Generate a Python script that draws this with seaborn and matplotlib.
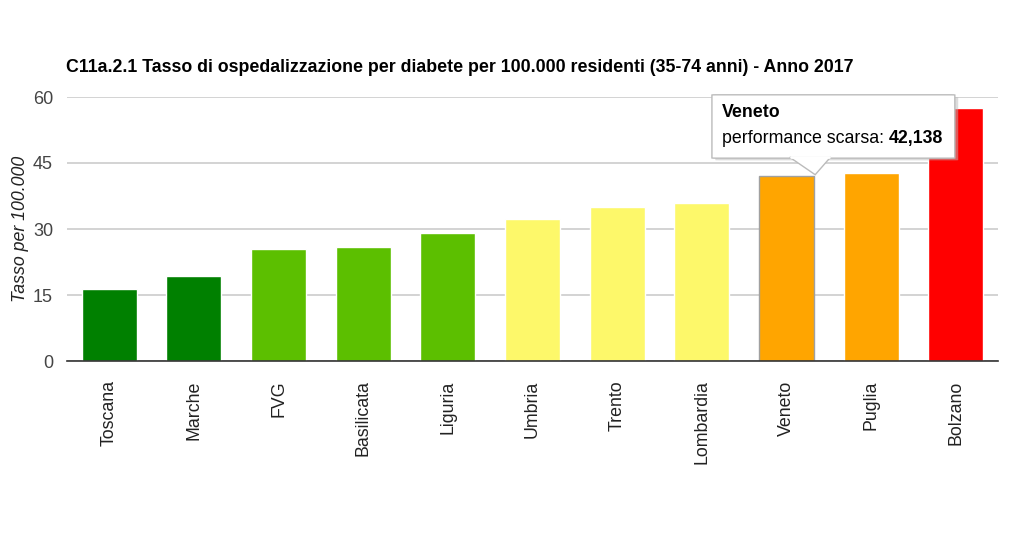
import matplotlib
matplotlib.use("Agg")
import matplotlib.pyplot as plt
from matplotlib.patches import FancyBboxPatch, Polygon
import pandas as pd
import seaborn as sns

# data
regions = ['Toscana', 'Marche', 'FVG', 'Basilicata', 'Liguria', 'Umbria',
           'Trento', 'Lombardia', 'Veneto', 'Puglia', 'Bolzano']
values = [16.4, 19.4, 25.5, 25.8, 29.1, 32.3, 35.0, 36.0, 42.138, 42.7, 57.4]
colors = ['#008000', '#008000', '#5cbf00', '#5cbf00', '#5cbf00', '#fdf86a',
          '#fdf86a', '#fdf86a', '#ffa500', '#ffa500', '#ff0000']
yticks = [0, 15, 30, 45, 60]

title = "C11a.2.1 Tasso di ospedalizzazione per diabete per 100.000 residenti (35-74 anni) - Anno 2017"
ylab = "Tasso per 100.000"

df = pd.DataFrame({'region': regions, 'value': values})

sns.set_style("white")
plt.rcParams['font.family'] = ['Liberation Sans', 'DejaVu Sans']

fig = plt.figure(figsize=(10.24, 5.47), dpi=100)
ax = fig.add_axes([67/1024, 1 - 361/547, 931/1024, 264/547])

sns.barplot(data=df, x='region', y='value', hue='region', palette=colors,
            legend=False, width=0.65, saturation=1, ax=ax, zorder=2)

# hovered bar outline
ax.patches[8].set_edgecolor('#a0a0a0')
ax.patches[8].set_linewidth(1.0)

ax.set_ylim(0, 60)
ax.set_xlim(-0.5, len(regions) - 0.5)
ax.set_yticks(yticks)
ax.yaxis.grid(True, color='#cccccc', linewidth=1.2, zorder=0)
ax.set_axisbelow(True)
for s in ['top', 'right', 'left']:
    ax.spines[s].set_visible(False)
ax.spines['bottom'].set_color('#333333')
ax.spines['bottom'].set_linewidth(1.2)

ax.tick_params(axis='y', length=0, labelsize=13, labelcolor='#444444', pad=10)
ax.tick_params(axis='x', direction='in', length=5, color='#cccccc',
               labelsize=12.8, labelcolor='#222222', pad=14)
plt.setp(ax.get_xticklabels(), rotation=90, va='top', ha='center')

ax.set_xlabel('')
ax.set_ylabel(ylab, fontsize=12.8, fontstyle='italic', color='#222222', labelpad=3)

fig.text(66/1024, 1 - 68/547, title, fontsize=12.75, fontweight='bold',
         color='#000000', va='center', ha='left')

# tooltip for Veneto
tip_x, tip_y = 8.34, values[8] + 0.2
shadow = FancyBboxPatch((7.16, 45.6), 2.87, 14.4, boxstyle="round,pad=0,rounding_size=0.05",
                        facecolor='#bbbbbb', edgecolor='none', alpha=0.5,
                        clip_on=False, zorder=5)
box = FancyBboxPatch((7.12, 46.1), 2.87, 14.4, boxstyle="round,pad=0,rounding_size=0.05",
                     facecolor='white', edgecolor='#bbbbbb', linewidth=1,
                     clip_on=False, zorder=6)
ax.add_patch(shadow)
ax.add_patch(box)
pointer = Polygon([(8.04, 46.3), (8.52, 46.3), (tip_x, tip_y)], closed=True,
                  facecolor='white', edgecolor='#bbbbbb', linewidth=1,
                  clip_on=False, zorder=7)
ax.add_patch(pointer)
ax.plot([8.06, 8.50], [46.3, 46.3], color='white', linewidth=2, zorder=8, clip_on=False)

ax.text(7.24, 56.4, regions[8], fontsize=12.8, fontweight='bold', color='#000000',
        va='center', ha='left', zorder=9)
t1 = ax.text(7.24, 50.6, "performance scarsa: ", fontsize=12.8, color='#000000',
             va='center', ha='left', zorder=9)
fig.canvas.draw()
bb = t1.get_window_extent()
x_end = ax.transData.inverted().transform((bb.x1, bb.y0))[0]
ax.text(x_end, 50.6, f"{values[8]:.3f}".replace('.', ','), fontsize=12.8,
        fontweight='bold', color='#000000', va='center', ha='left', zorder=9)

fig.savefig('out.png', dpi=100)
